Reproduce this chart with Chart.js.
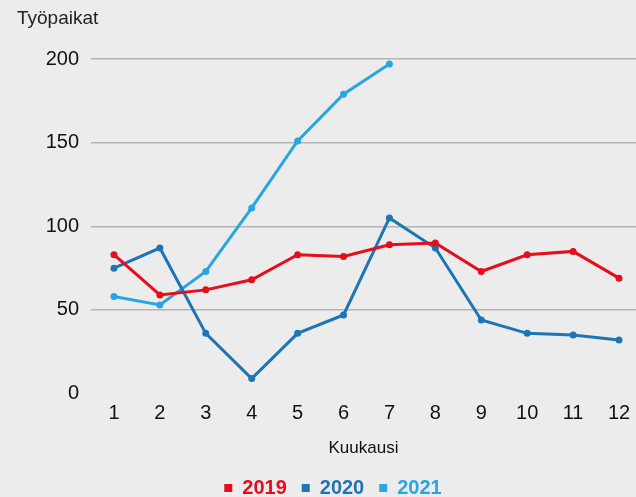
<!DOCTYPE html>
<html>
<head>
<meta charset="utf-8">
<script src="https://cdn.jsdelivr.net/npm/chart.js@4"></script>
<style>
  html, body { margin: 0; padding: 0; background: #ececec; }
  #wrap { width: 636px; height: 497px; }
</style>
</head>
<body>
<div id="wrap"><canvas id="myChart" width="636" height="497"></canvas></div>
<script>
const months = [1, 2, 3, 4, 5, 6, 7, 8, 9, 10, 11, 12];
const jobs2019 = [83, 59, 62, 68, 83, 82, 89, 90, 73, 83, 85, 69];
const jobs2020 = [75, 87, 36, 9, 36, 47, 105, 87, 44, 36, 35, 32];
const jobs2021 = [58, 53, 73, 111, 151, 179, 197];
const yTicks = [0, 50, 100, 150, 200];

const fontFamily = "Arial, 'Liberation Sans', sans-serif";
const red = 'rgb(228, 14, 28)';
const darkBlue = 'rgb(30, 117, 180)';
const lightBlue = 'rgb(40, 166, 226)';

const toPoints = values => values.map((v, i) => ({ x: months[i], y: v }));

const makeSet = (label, values, color) => ({
    label: label,
    data: toPoints(values),
    borderColor: color,
    backgroundColor: color,
    borderWidth: 3,
    pointRadius: 2,
    pointHoverRadius: 2,
    tension: 0,
    clip: 8
});

// y-axis caption sits horizontally in the top left corner
const cornerTitle = {
    id: 'cornerTitle',
    afterDraw: chart => {
        const c = chart.ctx;
        c.save();
        c.fillStyle = '#222';
        c.font = '19px ' + fontFamily;
        c.textBaseline = 'middle';
        c.textAlign = 'left';
        c.fillText('Työpaikat', 17, 19);
        c.restore();
    }
};

const ctx = document.getElementById('myChart').getContext('2d');
new Chart(ctx, {
    type: 'line',
    data: {
        datasets: [
            makeSet('2019', jobs2019, red),
            makeSet('2020', jobs2020, darkBlue),
            makeSet('2021', jobs2021, lightBlue)
        ]
    },
    options: {
        responsive: false,
        animation: false,
        layout: { autoPadding: false, padding: { left: 30, right: 0, top: 59, bottom: -11 } },
        scales: {
            x: {
                type: 'linear',
                min: 0.5,
                max: 12.37,
                afterBuildTicks: scale => { scale.ticks = months.map(m => ({ value: m })); },
                afterFit: scale => { scale.paddingLeft = 0; scale.paddingRight = 0; },
                grid: { display: false, drawTicks: false },
                border: { display: false },
                ticks: {
                    color: '#111',
                    font: { family: fontFamily, size: 20 },
                    padding: 8,
                    maxRotation: 0,
                    autoSkip: false
                },
                title: {
                    display: true,
                    text: 'Kuukausi',
                    color: '#111',
                    font: { family: fontFamily, size: 17 },
                    padding: { top: 5, bottom: 4 }
                }
            },
            y: {
                min: 0,
                max: 200,
                afterBuildTicks: scale => { scale.ticks = yTicks.map(v => ({ value: v })); },
                afterFit: scale => { scale.width = 61; scale.paddingTop = 0; scale.paddingBottom = 0; },
                grid: {
                    drawTicks: false,
                    lineWidth: 1.5,
                    color: c => c.tick && c.tick.value === 0 ? 'rgba(0,0,0,0)' : '#b4b4b4'
                },
                border: { display: false },
                ticks: {
                    color: '#111',
                    font: { family: fontFamily, size: 20 },
                    padding: 12
                }
            }
        },
        plugins: {
            legend: {
                position: 'bottom',
                labels: {
                    usePointStyle: true,
                    pointStyle: 'rect',
                    boxWidth: 8,
                    boxHeight: 8,
                    padding: 15,
                    font: { family: fontFamily, size: 20, weight: 'bold' },
                    generateLabels: chart => chart.data.datasets.map((ds, i) => ({
                        text: ds.label,
                        fillStyle: ds.borderColor,
                        strokeStyle: ds.borderColor,
                        fontColor: ds.borderColor,
                        lineWidth: 0,
                        pointStyle: 'rect',
                        hidden: false,
                        datasetIndex: i
                    }))
                }
            },
            tooltip: { enabled: false }
        }
    },
    plugins: [cornerTitle]
});
</script>
</body>
</html>
